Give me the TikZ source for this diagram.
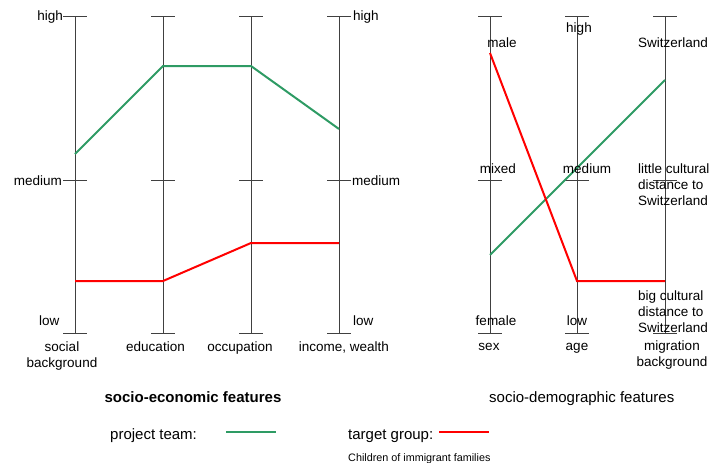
\documentclass[tikz,border=0pt]{standalone}
\usepackage{fontspec}
\setmainfont{Liberation Sans}
\definecolor{axisgray}{RGB}{64,64,64}
\definecolor{teamgreen}{RGB}{46,155,100}
\definecolor{targetred}{RGB}{255,0,0}
\begin{document}
\begin{tikzpicture}[x=1pt,y=-1pt,
  axisline/.style={draw=axisgray,line width=1pt},
  team/.style={draw=teamgreen,line width=2pt},
  target/.style={draw=targetred,line width=2pt},
  lab/.style={font=\fontsize{13.5}{16}\selectfont,inner sep=0pt,text=black},
  big/.style={font=\fontsize{15}{18}\selectfont,inner sep=0pt,text=black},
  small/.style={font=\fontsize{10.8}{13}\selectfont,inner sep=0pt,text=black}]
\useasboundingbox (0,0) rectangle (710,463);
% axes
\foreach \n/\x in {a1/75,a2/163,a3/251,a4/339,b1/490,b2/577,b3/665}{
  \coordinate (\n top) at (\x,16);
  \coordinate (\n mid) at (\x,180);
  \coordinate (\n bot) at (\x,333);
  \draw[axisline] (\n top) -- (\n bot);
  \draw[axisline] ([xshift=-12pt]\n top) -- ([xshift=12pt]\n top);
  \draw[axisline] ([xshift=-12pt]\n mid) -- ([xshift=12pt]\n mid);
  \draw[axisline] ([xshift=-12pt]\n bot) -- ([xshift=12pt]\n bot);
}
% data points
\coordinate (g1) at (75,154);  \coordinate (g2) at (163,66);
\coordinate (g3) at (251,66);  \coordinate (g4) at (339,129);
\coordinate (r1) at (75,281);  \coordinate (r2) at (163,281);
\coordinate (r3) at (251,243); \coordinate (r4) at (339,243);
\coordinate (gs) at (490,255); \coordinate (gm) at (665,80);
\coordinate (rs) at (490,53);  \coordinate (ra) at (577,281);
\coordinate (rm) at (665,281);
\draw[team] (g1) -- (g2) -- (g3) -- (g4);
\draw[target] (r1) -- (r2) -- (r3) -- (r4);
\draw[team] (gs) -- (gm);
\draw[target] (rs) -- (ra) -- (rm);
% left level labels
\node[lab,anchor=base east] (lh) at (63,20) {high};
\node[lab,anchor=base east] (lm) at (62,185) {medium};
\node[lab,anchor=base west] (ll) at (39,325) {low};
\node[lab,anchor=base west] (rh) at (353,20) {high};
\node[lab,anchor=base west] (rmed) at (352,185) {medium};
\node[lab,anchor=base west] (rl) at (353,325) {low};
% left axis names
\node[lab,anchor=base,align=center] (n1) at (62,367) {social\\background};
\node[lab,anchor=base] (n2) at (155.5,351) {education};
\node[lab,anchor=base] (n3) at (240,351) {occupation};
\node[lab,anchor=base] (n4) at (344,351) {income, wealth};
% right labels
\node[lab,anchor=base] (male) at (502,47) {male};
\node[lab,anchor=base] (mixed) at (498,173) {mixed};
\node[lab,anchor=base] (female) at (496,325) {female};
\node[lab,anchor=base] (ahigh) at (579,32) {high};
\node[lab,anchor=base] (amed) at (587,173) {medium};
\node[lab,anchor=base] (alow) at (577,325) {low};
\node[lab,anchor=base] (sw) at (673,47) {Switzerland};
\node[lab,anchor=base west,align=left] (little) at (638,205) {little cultural\\distance to\\Switzerland};
\node[lab,anchor=base west,align=left] (bigc) at (638,332) {big cultural\\distance to\\Switzerland};
\node[lab,anchor=base] (sex) at (489,350) {sex};
\node[lab,anchor=base] (age) at (577,350) {age};
\node[lab,anchor=base,align=center] (mig) at (672,366) {migration\\background};
% titles
\node[big,anchor=base,font=\fontsize{15}{18}\selectfont\bfseries] (t1) at (193,402) {socio-economic features};
\node[big,anchor=base west] (t2) at (489,402) {socio-demographic features};
% legend
\node[big,anchor=base west] (pt) at (110,439) {project team:};
\coordinate (pta) at (226,432); \coordinate (ptb) at (276,432);
\draw[team] (pta) -- (ptb);
\node[big,anchor=base west] (tg) at (348,439) {target group:};
\coordinate (tga) at (439,432); \coordinate (tgb) at (489,432);
\draw[target] (tga) -- (tgb);
\node[small,anchor=base west] (ch) at (348,461) {Children of immigrant families};
\end{tikzpicture}
\end{document}
